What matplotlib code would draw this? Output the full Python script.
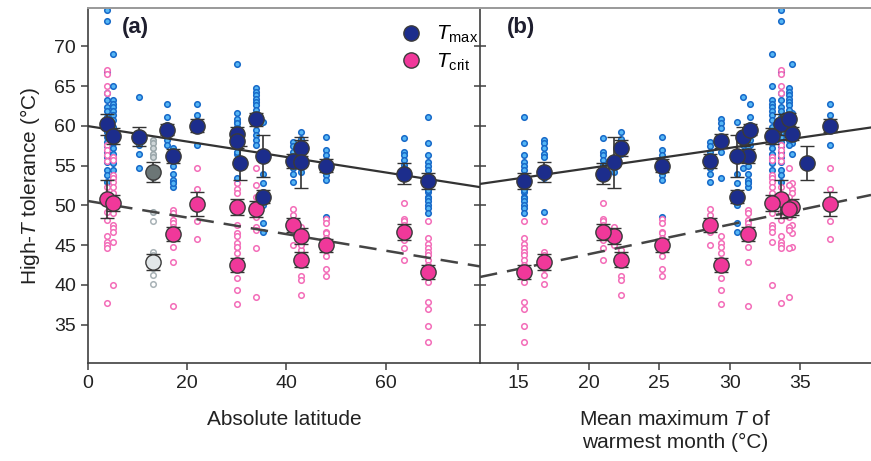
import numpy as np
import matplotlib.pyplot as plt
from matplotlib.lines import Line2D

plt.rcParams['font.family'] = ['Liberation Sans', 'DejaVu Sans']
plt.rcParams['mathtext.fontset'] = 'custom'
plt.rcParams['mathtext.rm'] = 'Liberation Sans'
plt.rcParams['mathtext.it'] = 'Liberation Sans:italic'

nan = np.nan

# one entry per population
lat = [3.8, 5.1, 10.3, 13.1, 16.0, 17.2, 22.0, 30.0, 30.0, 30.6,
       33.9, 35.2, 35.2, 41.3, 43.0, 43.0, 47.9, 63.6, 68.6]
twarm = [33.6, 33.0, 30.9, 16.8, 31.4, 31.3, 37.1, 34.4, 29.4, 35.5,
         34.2, 30.5, 30.5, 28.6, 22.3, 21.8, 25.2, 21.0, 15.4]

tmax_mean = [60.2, 58.7, 58.6, 54.2, 59.5, 56.2, 60.0, 59.0, 58.1, 55.3,
             60.8, 56.2, 51.1, 55.6, 57.2, 55.4, 55.0, 54.0, 53.1]
tmax_err = [1.3, 1.0, 1.2, 1.2, 0.7, 0.9, 0.8, 0.8, 0.9, 2.1,
            0.8, 2.6, 0.8, 0.9, 1.0, 3.2, 0.8, 1.3, 1.0]
tcrit_mean = [50.8, 50.3, nan, 42.9, nan, 46.4, 50.2, 49.8, 42.5, nan,
              49.5, nan, nan, 47.5, 43.2, 46.2, 45.0, 46.7, 41.6]
tcrit_err = [2.4, 1.0, nan, 1.0, nan, 0.9, 1.5, 1.0, 0.9, nan,
             1.0, nan, nan, 0.9, 0.9, 1.0, 0.8, 1.0, 0.9]

# individual measurements
tmax_pts = [
    [74.5, 73.2, 66.8, 64.1, 63.2, 62.4, 61.8, 61.1, 60.5, 59.2, 58.6, 58.0, 57.4, 56.7, 56.1, 55.5, 54.4, 53.8, 53.0],
    [69.0, 65.0, 63.2, 62.8, 62.4, 61.8, 61.3, 60.7, 59.9, 59.2, 57.8, 57.2, 56.5, 55.9, 55.3, 54.4, 53.6],
    [63.6, 57.6, 56.5, 54.7],
    [58.2, 57.8, 57.2, 56.5, 56.1, 54.4, 53.8, 53.4, 49.2],
    [62.8, 61.1, 60.1, 58.2, 57.6],
    [57.2, 56.5, 55.7, 54.9, 54.0, 53.0, 52.3, 53.2, 52.8],
    [62.8, 61.3, 57.6],
    [67.8, 61.6, 60.5, 59.9, 58.6, 57.8, 56.5],
    [60.8, 60.3, 59.7, 56.7, 53.5],
    [],
    [64.8, 64.3, 63.9, 63.4, 63.0, 62.6, 62.0, 61.3, 59.5, 58.8, 58.2, 57.6],
    [60.5, 54.0, 52.8],
    [51.7, 50.1, 47.8, 46.7],
    [58.0, 57.4, 56.7, 56.1, 54.7, 54.0, 53.0],
    [59.2, 58.4, 57.8, 56.5],
    [54.7, 54.2],
    [58.6, 57.0, 56.3, 55.7, 55.0, 54.4, 53.8, 53.2, 48.6],
    [58.5, 56.7, 56.3, 55.7, 55.1, 54.7],
    [61.1, 57.8, 56.3, 55.5, 55.0, 54.4, 53.8, 53.2, 52.3, 51.7, 51.0, 51.9, 50.9, 50.5, 50.1, 49.7, 49.1],
]
tcrit_pts = [
    [67.0, 66.5, 65.0, 64.1, 57.6, 57.0, 56.3, 55.6, 52.3, 49.2, 48.2, 46.1, 45.4, 45.0, 44.6, 37.7],
    [56.1, 55.7, 53.8, 53.4, 53.0, 52.3, 51.5, 49.0, 47.5, 47.1, 46.7, 45.4, 40.0],
    [],
    [48.0, 44.2, 43.8, 43.4, 42.9, 42.5, 42.1, 41.3, 40.1],
    [],
    [49.4, 49.1, 48.2, 47.8, 47.3, 46.5, 44.8, 42.9, 37.3],
    [54.7, 52.1, 48.0, 45.8],
    [52.8, 52.1, 51.5, 47.5, 46.5, 44.8],
    [46.2, 45.3, 44.8, 44.0, 40.9, 39.4, 37.6],
    [],
    [54.7, 52.6, 51.1, 48.6, 47.3, 46.9, 44.6, 38.5],
    [],
    [],
    [49.6, 48.8, 48.0, 47.3, 46.7, 45.0],
    [44.4, 43.8, 41.1, 40.6, 38.8],
    [47.3, 45.9, 45.4, 45.0],
    [48.3, 47.8, 46.7, 46.5, 45.9, 44.4, 43.6, 42.0, 41.1],
    [50.3, 48.3, 48.0, 47.5, 47.1, 46.3, 45.7, 44.6, 43.1],
    [48.1, 45.9, 45.2, 44.6, 44.2, 43.8, 43.1, 42.5, 41.1, 40.4, 37.9, 37.0, 34.9, 32.9],
]

# fitted lines (intercept, slope)
fit_a_tmax = (59.96, -0.097)
fit_a_tcrit = (50.55, -0.104)
fit_b_tmax = (49.55, 0.256)
fit_b_tcrit = (36.43, 0.372)

gray_in_a = [3]

navy = '#1c2d8c'
pink = '#f0389a'
edge = '#3a3a3a'


def draw(ax, xs, grays, fits, xlim):
    for i, x in enumerate(xs):
        g = i in grays
        p = tmax_pts[i]
        ax.plot([x] * len(p), p, 'o', ms=4.0, mew=1.1, zorder=2,
                mfc='#cfd6d9' if g else '#55b6f5', mec='#9aa6aa' if g else '#1769c8')
        p = tcrit_pts[i]
        ax.plot([x] * len(p), p, 'o', ms=4.0, mew=1.1, zorder=2,
                mfc='white', mec='#a8b2b6' if g else '#f36cb8')

    xx = np.array(xlim)
    ax.plot(xx, fits[0][0] + fits[0][1] * xx, '-', color='#333333', lw=1.6, zorder=3)
    ax.plot(xx, fits[1][0] + fits[1][1] * xx, '--', color='#444444', lw=1.8,
            dashes=(7, 4), zorder=3)

    for i, x in enumerate(xs):
        g = i in grays
        ax.errorbar(x, tmax_mean[i], yerr=tmax_err[i], fmt='o', ms=11,
                    mfc='#6c7676' if g else navy, mec=edge, mew=1.0,
                    ecolor='#333333', elinewidth=1.2, capsize=5, capthick=1.2, zorder=5)
        if not np.isnan(tcrit_mean[i]):
            ax.errorbar(x, tcrit_mean[i], yerr=tcrit_err[i], fmt='o', ms=11,
                        mfc='#e2e7e9' if g else pink, mec=edge, mew=1.0,
                        ecolor='#333333', elinewidth=1.2, capsize=5, capthick=1.2, zorder=5)

    ax.set_xlim(*xlim)
    ax.set_ylim(30.2, 74.8)
    for s in ['left', 'right', 'bottom']:
        ax.spines[s].set_color('#404040')
        ax.spines[s].set_linewidth(1.2)
    ax.spines['top'].set_color('#999999')
    ax.spines['top'].set_linewidth(1.4)


fig = plt.figure(figsize=(8.71, 4.61), dpi=100)
ax1 = fig.add_axes([88 / 871, 1 - 363 / 461, 392 / 871, 355 / 461])
ax2 = fig.add_axes([480 / 871, 1 - 363 / 461, 391 / 871, 355 / 461])
ax2.patch.set_visible(False)

draw(ax1, lat, gray_in_a, (fit_a_tmax, fit_a_tcrit), (0, 79))
draw(ax2, twarm, [], (fit_b_tmax, fit_b_tcrit), (12.3, 40.0))

ax1.set_xticks([0, 20, 40, 60])
ax1.set_yticks([35, 40, 45, 50, 55, 60, 65, 70])
ax1.tick_params(direction='out', length=5, width=1.1, color='#404040', labelsize=14, labelcolor='#222222')
ax2.set_xticks([15, 20, 25, 30, 35])
ax2.set_yticks([35, 40, 45, 50, 55, 60, 65, 70])
ax2.tick_params(axis='x', direction='out', length=5, width=1.1, color='#404040', labelsize=14, labelcolor='#222222')
ax2.tick_params(axis='y', direction='inout', length=8, width=1.1, color='#404040', labelleft=False)
ax2.spines['left'].set_visible(False)
ax2.spines['right'].set_visible(False)

ax1.set_ylabel('High-$T$ tolerance (°C)', fontsize=15, color='#222222', labelpad=9)
ax1.set_xlabel('Absolute latitude', fontsize=15, color='#222222', labelpad=13)
ax2.set_xlabel('Mean maximum $T$ of\nwarmest month (°C)', fontsize=15, color='#222222',
               labelpad=13, linespacing=1.3)

ax1.text(0.087, 0.975, '(a)', transform=ax1.transAxes, fontsize=16, fontweight='bold',
         va='top', color='#1e1e2e')
ax2.text(0.068, 0.975, '(b)', transform=ax2.transAxes, fontsize=16, fontweight='bold',
         va='top', color='#1e1e2e')

handles = [Line2D([], [], ls='none', marker='o', ms=11, mfc=navy, mec=edge),
           Line2D([], [], ls='none', marker='o', ms=11, mfc=pink, mec=edge)]
leg = ax1.legend(handles, [r'$T_{\rm max}$', r'$T_{\rm crit}$'], loc='upper left',
                 bbox_to_anchor=(0.738, 0.99), frameon=False, fontsize=15,
                 handletextpad=0.2, labelspacing=0.3, borderaxespad=0.2)
leg.set_zorder(10)

fig.savefig('out.png', dpi=100)
